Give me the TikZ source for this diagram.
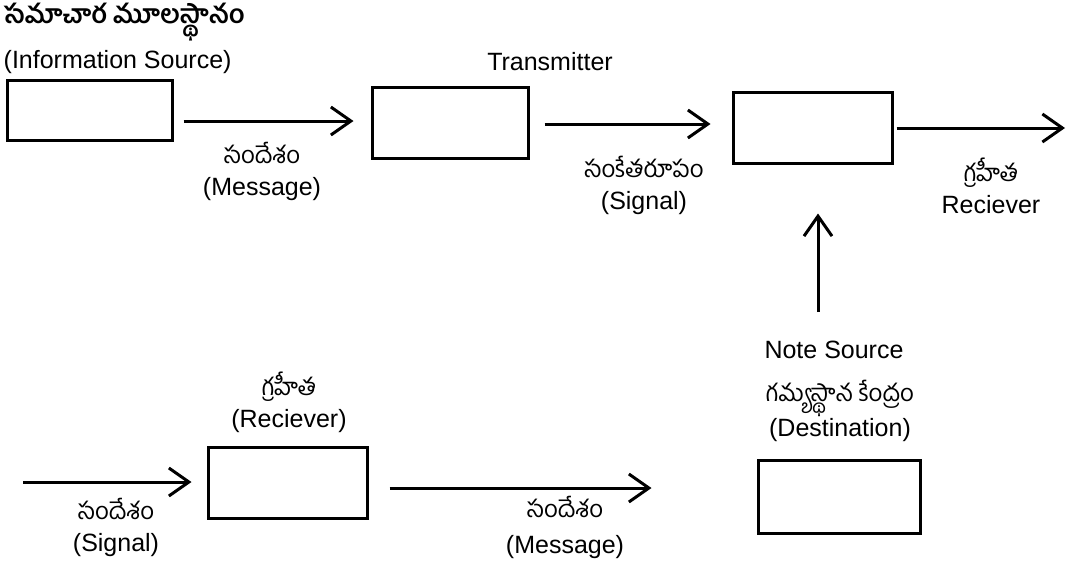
\documentclass[tikz,border=0pt]{standalone}
\usepackage{fontspec}
\setmainfont{Liberation Sans}
\newfontfamily\telugu[Script=Telugu]{Hind Guntur}
\newcommand{\tel}[1]{{\telugu\fontsize{24}{32}\selectfont #1}}
\usetikzlibrary{arrows.meta}
\tikzset{
	blk/.style={draw, line width=3pt, inner sep=0pt},
	flow/.style={line width=3pt, -{Straight Barb[length=20pt,width=28pt]}},
	lbl/.style={inner sep=0.5pt, align=center, font=\fontsize{25}{32}\selectfont}
}
\begin{document}
\begin{tikzpicture}[x=1pt,y=-1pt]
	\useasboundingbox (0,0) rectangle (1068,571);
	% boxes
	\node[blk, minimum width=165, minimum height=60] (src) at (89.5,110) {};
	\node[blk, minimum width=156, minimum height=71] (tx) at (450,122.5) {};
	\node[blk, minimum width=159, minimum height=71] (rx) at (812.5,127.5) {};
	\node[blk, minimum width=159, minimum height=71] (rcv) at (287.5,482.5) {};
	\node[blk, minimum width=162, minimum height=73] (dst) at (839,496.5) {};
	% labels, top row
	\node[lbl, anchor=west, font=\telugu\bfseries\fontsize{26}{28}\selectfont] (srcte) at (3,22) {సమాచార మూలస్థానం};
	\node[lbl, anchor=west] (srcen) at (3,62) {(Information Source)};
	\node[lbl] (msg) at (262,171) {\tel{సందేశం}\\(Message)};
	\node[lbl] (txen) at (550,62) {Transmitter};
	\node[lbl] (sig) at (644,185) {\tel{సంకేతరూపం}\\(Signal)};
	\node[lbl] (out) at (991,186) {\tel{గ్రహీత}\\Reciever};
	% labels, bottom row
	\node[lbl] (note) at (834,350) {Note Source};
	\node[lbl] (dstlbl) at (840,411) {\tel{గమ్యస్థాన కేంద్రం}\\(Destination)};
	\node[lbl] (rcvlbl) at (289,402) {\tel{గ్రహీత}\\(Reciever)};
	\node[lbl] (in) at (116,527) {\tel{సందేశం}\\(Signal)};
	\node[lbl] (msg2) at (565,527) {\tel{సందేశం}\\[4pt](Message)};
	% connectors
	\coordinate (outend) at (1065,128);
	\coordinate (notetop) at (818,312);
	\coordinate (instart) at (23,482);
	\draw[flow] ([shift={(10,11)}]src.east) -- ([shift={(-17,-1.5)}]tx.west);
	\draw[flow] ([shift={(15,1.5)}]tx.east) -- ([shift={(-21,-3.5)}]rx.west);
	\draw[flow] ([shift={(3,0.5)}]rx.east) -- (outend);
	\draw[flow] (notetop) -- ([shift={(5.5,49)}]rx.south);
	\draw[flow] (instart) -- ([shift={(-15,-0.5)}]rcv.west);
	\draw[flow] ([shift={(21,5.5)}]rcv.east) -- ([shift={(-105,-8.5)}]dst.west);
\end{tikzpicture}
\end{document}
